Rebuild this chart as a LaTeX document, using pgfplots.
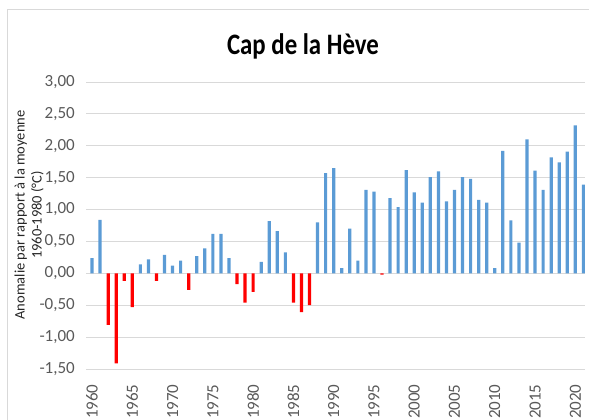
\documentclass[border=0pt]{standalone}
\usepackage{fontspec}
\setmainfont{Carlito}
\usepackage{graphicx}
\usepackage{pgfplots}
\pgfplotsset{compat=1.18}
\definecolor{barblue}{HTML}{5B9BD5}
\definecolor{gridgrey}{HTML}{D9D9D9}
\definecolor{ticktext}{HTML}{595959}
\begin{document}
\begin{tikzpicture}
\path[use as bounding box] (0,0) rectangle (589pt,420pt);
\draw[gridgrey, line width=0.8pt] (7pt,-5pt) -- (7pt,411pt) -- (600pt,411pt);
\node[font=\fontsize{27}{30}\selectfont\bfseries] at (303pt,374pt) {\scalebox{0.92}[1.1]{Cap de la Hève}};
\node[rotate=90, align=center, font=\fontsize{14.5}{17}\selectfont, text=black!85] at (29pt,205pt) {Anomalie par rapport à la moyenne\\1960-1980 (°C)};
\begin{axis}[
  scale only axis,
  width=499pt, height=287pt,
  at={(86pt,51pt)}, anchor=south west,
  xmin=1959.25, xmax=2021.2,
  ymin=-1.5, ymax=3,
  ytick={-1.5,-1,-0.5,0,0.5,1,1.5,2,2.5,3},
  xtick={1960,1965,...,2020},
  axis line style={draw=none},
  tick style={draw=none},
  ymajorgrids,
  grid style={gridgrey, line width=0.9pt},
  /pgf/number format/assume math mode=true,
  every y tick label/.append style={anchor=east, inner sep=0pt, text=ticktext, font=\fontsize{17}{17}\selectfont},
  every x tick label/.append style={rotate=90, anchor=east, inner sep=0pt, text=ticktext, font=\fontsize{17}{17}\selectfont},
  yticklabel style={/pgf/number format/.cd, fixed, fixed zerofill, precision=2, use comma, 1000 sep={}},
  xticklabel style={/pgf/number format/.cd, fixed, precision=0, 1000 sep={}},
  yticklabel shift=11pt,
  xticklabel shift=11pt,
  ybar, bar width=3.2pt,
  bar shift=0pt,
  clip=false,
]
\addplot[fill=barblue, draw=none] coordinates {
(1960,0.24) (1961,0.84) (1966,0.14) (1967,0.22) (1969,0.29) (1970,0.12)
(1971,0.20) (1973,0.27) (1974,0.39) (1975,0.62) (1976,0.62) (1977,0.24)
(1981,0.18) (1982,0.82) (1983,0.66) (1984,0.33) (1988,0.80) (1989,1.57)
(1990,1.65) (1991,0.08) (1992,0.70) (1993,0.20) (1994,1.31) (1995,1.28)
(1997,1.18) (1998,1.04) (1999,1.62) (2000,1.27) (2001,1.11) (2002,1.51)
(2003,1.60) (2004,1.13) (2005,1.31) (2006,1.51) (2007,1.48) (2008,1.15)
(2009,1.11) (2010,0.08) (2011,1.92) (2012,0.83) (2013,0.48) (2014,2.10)
(2015,1.61) (2016,1.31) (2017,1.82) (2018,1.74) (2019,1.91) (2020,2.32)
(2021,1.39)
};
\addplot[fill=red, draw=none] coordinates {
(1962,-0.81) (1963,-1.41) (1964,-0.12) (1965,-0.53) (1968,-0.12)
(1972,-0.26) (1978,-0.17) (1979,-0.46) (1980,-0.29) (1985,-0.46)
(1986,-0.61) (1987,-0.50) (1996,-0.02)
};
\end{axis}
\end{tikzpicture}
\end{document}
